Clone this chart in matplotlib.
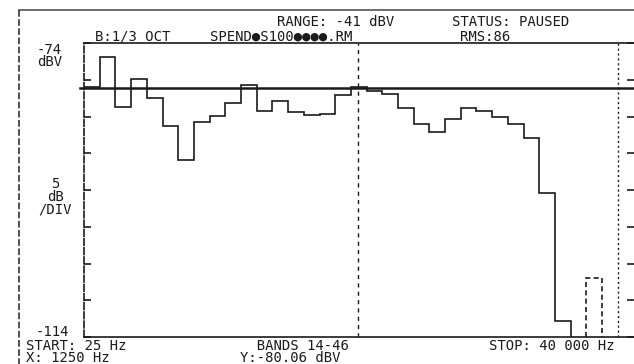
import matplotlib
matplotlib.use('Agg')
import matplotlib.pyplot as plt
from matplotlib.lines import Line2D

# 1/3 octave bands 14..46 (25 Hz .. 40 kHz), level in dBV
bands = list(range(14, 47))
levels = [-80.0, -75.9, -82.7, -78.9, -81.5, -85.3, -89.9, -84.8, -83.9, -82.2,
          -79.7, -83.3, -81.9, -83.4, -83.8, -83.7, -81.1, -80.0, -80.5, -80.9,
          -82.8, -85.0, -86.1, -84.3, -82.8, -83.2, -84.1, -85.0, -86.9, -94.4,
          -111.8, -116.0, -106.0]
cursor_band = 31
cursor_level = -80.06
marker_band = 47.5
y_top, y_bottom = -74, -114

W, H = 634, 364
fig = plt.figure(figsize=(W / 100, H / 100), dpi=100)


def fx(px):
    return px / W


def fy(py):
    return 1 - py / H


ink = '#1a1a1a'
mono = 'DejaVu Sans Mono'

ax = fig.add_axes([fx(84), fy(337), fx(634) - fx(84), fy(43) - fy(337)])
ax.set_xlim(13.5, 13.5 + 550 / 15.7)
ax.set_ylim(y_bottom, y_top)

# main trace, last band drawn dashed on its own
edges = [b - 0.5 for b in bands[:-1]] + [bands[-2] + 0.5]
ax.stairs(levels[:-1], edges, baseline=None, color=ink, lw=1.2)
ax.stairs(levels[-1:], [bands[-1] - 0.5, bands[-1] + 0.5], baseline=y_bottom,
          color=ink, lw=1.2, linestyle=(0, (3, 2)))

# cursor cross
ax.axhline(cursor_level, xmin=-0.008, color=ink, lw=1.8, clip_on=False)
ax.axvline(cursor_band - 0.06, color=ink, lw=1.0, linestyle=(0, (3, 3)))
ax.axvline(marker_band, color=ink, lw=1.0, linestyle=(0, (1.5, 2)))

ax.set_yticks(range(y_bottom, y_top + 1, 5))
ax.set_xticks([])
ax.tick_params(axis='y', direction='in', length=5, width=1.2, color=ink,
               right=True, labelleft=False)
ax.spines['right'].set_visible(False)
ax.spines['left'].set_linestyle((0, (4, 1.5)))
for s in ['left', 'top', 'bottom']:
    ax.spines[s].set_color(ink)
    ax.spines[s].set_linewidth(1.2)

# outer frame of the screen
fig.add_artist(Line2D([fx(19), fx(634)], [fy(10), fy(10)], color='#555555', lw=1.2))
fig.add_artist(Line2D([fx(19), fx(19)], [fy(10), fy(364)], color='#333333', lw=1.2,
                      linestyle=(0, (4, 1.5))))

# (text, x px, y px of block centre, horizontal alignment)
labels = [
    ('RANGE: -41 dBV', 277, 22, 'left'),
    ('STATUS: PAUSED', 452, 22, 'left'),
    ('B:1/3 OCT', 95, 37, 'left'),
    ('SPEND●S100●●●●.RM', 210, 37, 'left'),
    ('RMS:86', 460, 37, 'left'),
    ('-74\ndBV', 37, 56, 'left'),
    ('5\ndB\n/DIV', 55, 197, 'center'),
    ('-114', 36, 332, 'left'),
    ('START: 25 Hz\nX: 1250 Hz', 26, 352, 'left'),
    ('  BANDS 14-46\nY:-80.06 dBV', 240, 352, 'left'),
    ('STOP: 40 000 Hz', 489, 346, 'left'),
]
for txt, px, py, ha in labels:
    fig.text(fx(px), fy(py), txt, family=mono, fontsize=10, color=ink,
             ha=ha, va='center', multialignment=ha, linespacing=0.88)

fig.savefig('out.png', dpi=100, facecolor='white')
